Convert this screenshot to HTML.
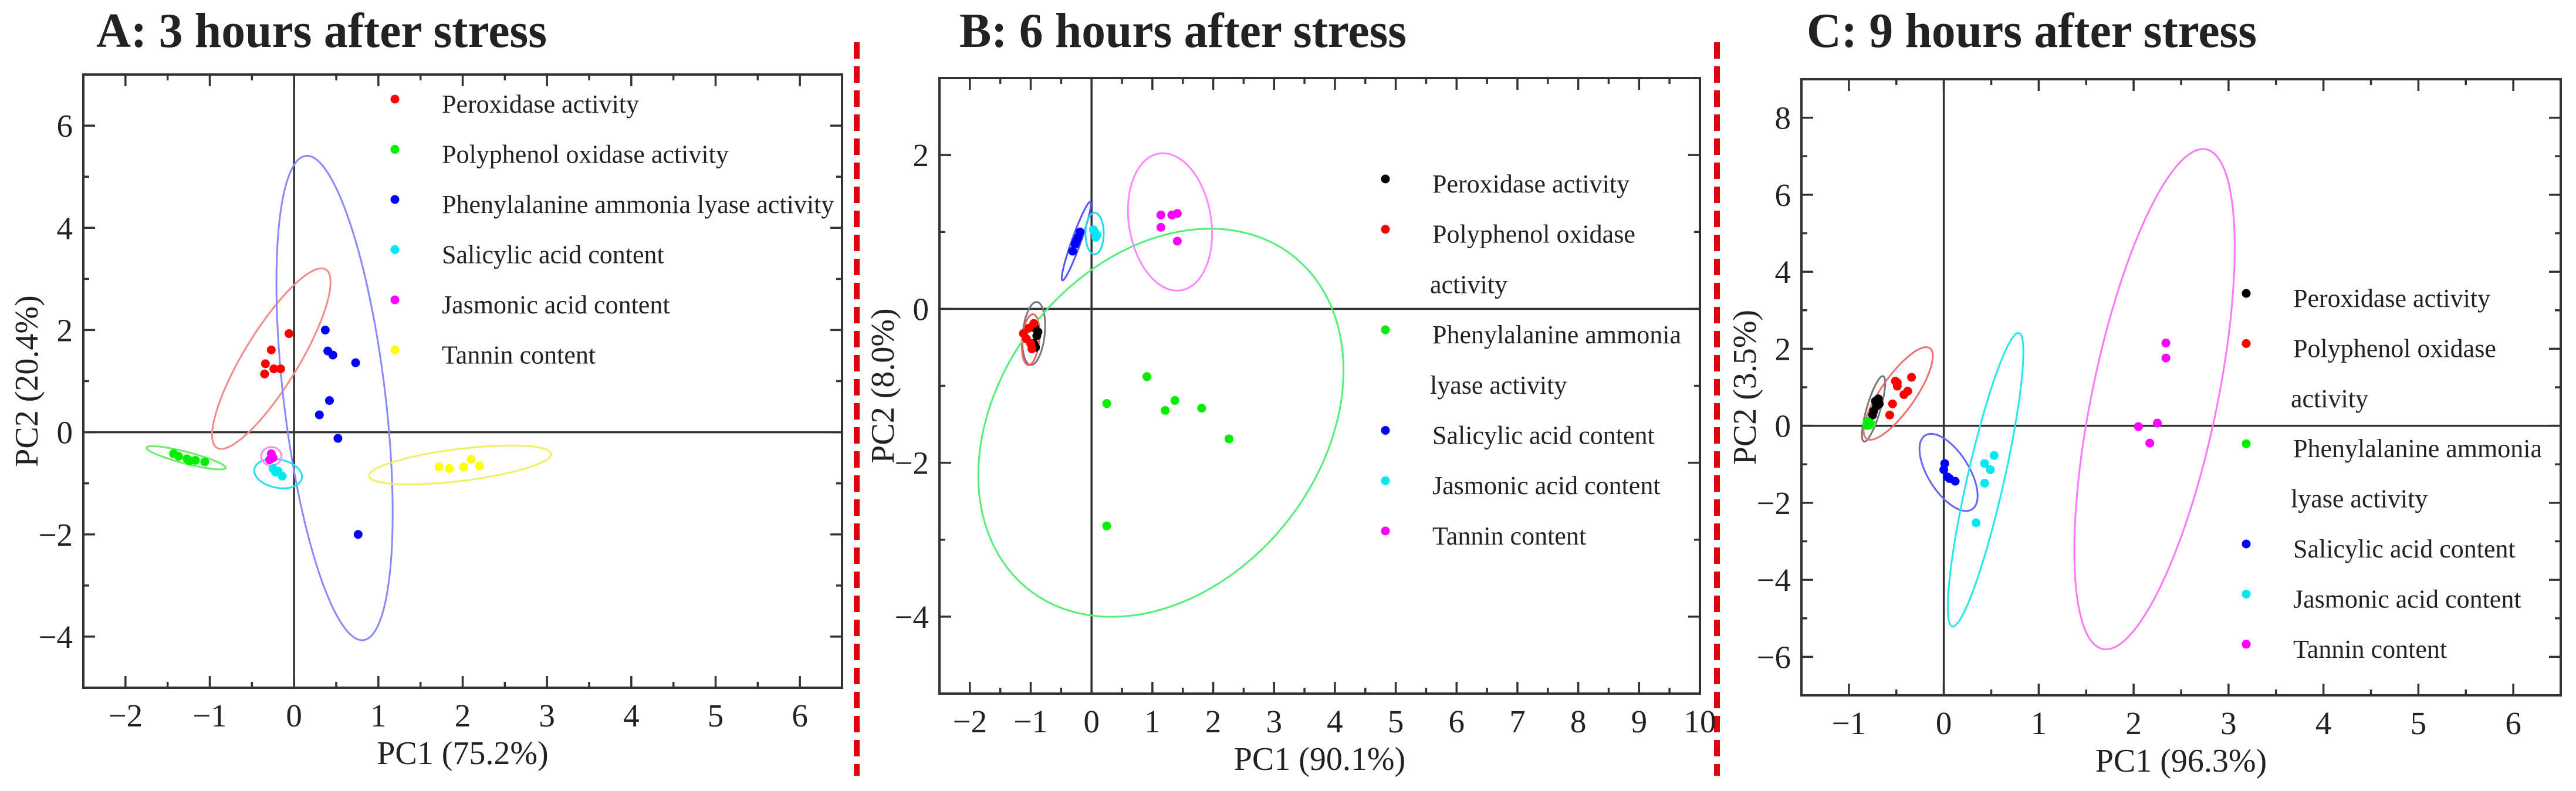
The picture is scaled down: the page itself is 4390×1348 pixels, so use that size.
<!DOCTYPE html>
<html><head><meta charset="utf-8">
<style>
html,body{margin:0;padding:0;background:#fff;}
svg{display:block;}
text{font-family:"Liberation Serif",serif;fill:#222;}
</style></head>
<body>
<svg id="chart" xmlns="http://www.w3.org/2000/svg" width="4390" height="1348" viewBox="0 0 4390 1348">
<rect x="0" y="0" width="4390" height="1348" fill="#fff"/>
<line x1="1460" y1="72" x2="1460" y2="1322" stroke="#e00010" stroke-width="10" stroke-dasharray="28,13"/>
<line x1="2926" y1="72" x2="2926" y2="1322" stroke="#e00010" stroke-width="10" stroke-dasharray="28,13"/>
</svg>
<script>
// ---------- Panel A data ----------
const aLabels = ["Peroxidase activity","Polyphenol oxidase activity","Phenylalanine ammonia lyase activity","Salicylic acid content","Jasmonic acid content","Tannin content"];
const aColors = ["#ff0000","#00ee00","#0000ff","#00e8f0","#ff00ff","#ffff00"];
const aEllColors = ["#f58a8a","#66ee66","#8888ff","#22e0ee","#ff88ff","#f0f060"];
const aRedX = [-0.06,-0.27,-0.34,-0.35,-0.24,-0.16];
const aRedY = [1.93,1.61,1.34,1.14,1.24,1.24];
const aGreenX = [-1.43,-1.37,-1.27,-1.17,-1.06,-1.24];
const aGreenY = [-0.42,-0.47,-0.52,-0.55,-0.58,-0.56];
const aBlueX = [0.37,0.40,0.46,0.73,0.42,0.30,0.52,0.76];
const aBlueY = [2.0,1.59,1.51,1.36,0.62,0.34,-0.12,-2.0];
const aCyanX = [-0.25,-0.19,-0.14,-0.22];
const aCyanY = [-0.71,-0.76,-0.86,-0.78];
const aMagX = [-0.27,-0.25,-0.29];
const aMagY = [-0.42,-0.50,-0.54];
const aYelX = [1.72,1.84,2.01,2.10,2.20];
const aYelY = [-0.68,-0.71,-0.68,-0.53,-0.66];
// ellipses: [cx, cy, majorX, majorY, minorX, minorY]
const aEllipses = [[-0.27,1.44,0.64,1.75,0.29,-0.24],[-1.28,-0.5,0.47,-0.2,-0.02,-0.11],[0.48,0.67,-0.34,4.74,0.60,0.10],[-0.19,-0.81,0.28,-0.1,-0.04,-0.27],[-0.27,-0.47,0.12,0,0,-0.18],[1.97,-0.64,1.08,0.22,0.03,-0.31]];

// ---------- Panel B data ----------
const bLabels = [["Peroxidase activity"],["Polyphenol oxidase","activity"],["Phenylalanine ammonia","lyase activity"],["Salicylic acid content"],["Jasmonic acid content"],["Tannin content"]];
const bColors = ["#000000","#ff0000","#00ee00","#0000ff","#00e8f0","#ff00ff"];
const bEllColors = ["#777777","#f06060","#55ee77","#5555ff","#22d8ee","#ff88ff"];
const bBlackX = [-0.93,-0.90,-0.95,-0.88,-0.92];
const bBlackY = [-0.25,-0.35,-0.45,-0.30,-0.50];
const bRedX = [-1.12,-1.03,-1.0,-0.98,-1.07,-0.95];
const bRedY = [-0.32,-0.25,-0.45,-0.52,-0.39,-0.19];
const bGreenX = [0.91,0.25,1.37,1.21,1.81,2.26,0.25];
const bGreenY = [-0.88,-1.23,-1.19,-1.32,-1.29,-1.69,-2.82];
const bBlueX = [-0.31,-0.27,-0.22,-0.19,-0.25];
const bBlueY = [0.75,0.84,0.93,1.0,0.88];
const bCyanX = [0.05,0.09,0.03,0.07];
const bCyanY = [1.0,0.96,1.03,0.93];
const bMagX = [1.14,1.32,1.41,1.14,1.41];
const bMagY = [1.22,1.22,1.24,1.06,0.88];
const bEllipses = [[-0.95,-0.32,0.05,0.41,0.18,-0.01],[-1.0,-0.4,0.04,0.33,0.14,-0.01],[1.14,-1.48,1.88,2.32,2.34,-0.99],[-0.25,0.88,0.23,0.51,0.07,-0.02],[0.05,0.98,0,0.27,0.15,0],[1.29,1.13,-0.17,0.89,0.67,0.07]];

// ---------- Panel C data ----------
const cLabels = bLabels;
const cColors = bColors;
const cEllColors = ["#777777","#f07070","#55ee55","#6666ee","#22e8ee","#ff77ff"];
const cBlackX = [-0.72,-0.69,-0.68,-0.74,-0.71,-0.75];
const cBlackY = [0.64,0.70,0.57,0.38,0.51,0.28];
const cRedX = [-0.51,-0.49,-0.34,-0.38,-0.42,-0.54,-0.57,-0.49];
const cRedY = [1.16,1.03,1.26,0.90,0.81,0.57,0.28,1.12];
const cGreenX = [-0.80,-0.78,-0.81];
const cGreenY = [0.11,0.05,0.01];
const cBlueX = [0.01,0.0,0.04,0.12,0.06];
const cBlueY = [-0.98,-1.14,-1.33,-1.44,-1.37];
const cCyanX = [0.53,0.43,0.49,0.43,0.34];
const cCyanY = [-0.77,-0.98,-1.14,-1.49,-2.52];
const cMagX = [2.34,2.34,2.05,2.25,2.17];
const cMagY = [2.15,1.76,-0.02,0.07,-0.45];
const cEllipses = [[-0.74,0.44,0.10,0.85,0.07,-0.04],[-0.48,0.84,0.33,1.18,0.155,-0.23],[-0.79,0.06,0.06,0,0,-0.14],[0.05,-1.21,-0.24,0.97,0.19,0.25],[0.44,-1.40,0.35,3.81,0.19,-0.09],[2.22,0.69,0.54,6.49,0.65,-0.28]];

const aXTicks = [-2,-1,0,1,2,3,4,5,6];
const aYTicks = [-4,-2,0,2,4,6];
const bXTicks = [-2,-1,0,1,2,3,4,5,6,7,8,9,10];
const bYTicks = [-4,-2,0,2];
const cXTicks = [-1,0,1,2,3,4,5,6];
const cYTicks = [-6,-4,-2,0,2,4,6,8];

const NS = "http://www.w3.org/2000/svg";
const svg = document.getElementById('chart');
function mk(tag, attrs, parent){const e=document.createElementNS(NS,tag);for(const k in attrs)e.setAttribute(k,attrs[k]);(parent||svg).appendChild(e);return e;}
function fmt(v){return v<0?"\u2212"+Math.abs(v):String(v);}

function panel(p){
  const g = mk('g',{});
  
  
  const sx = v => p.L + (v - p.x0)/(p.x1 - p.x0)*(p.R - p.L);
  const sy = v => p.B - (v - p.y0)/(p.y1 - p.y0)*(p.B - p.T);
  const t = mk('text',{x:p.tx,y:80,'font-size':84,'font-weight':'bold',fill:'#000',textLength:p.tw,lengthAdjust:'spacingAndGlyphs'},g);
  t.textContent = p.title;
  
  
  const zx = mk('line',{x1:sx(0),x2:sx(0),y1:p.T,y2:p.B,stroke:'#333','stroke-width':3.5},g);
  
  
  const zy = mk('line',{x1:p.L,x2:p.R,y1:sy(0),y2:sy(0),stroke:'#333','stroke-width':3.5},g);
  
  
  const tg = mk('g',{stroke:'#333','stroke-width':3.5},g);
  
  
  for(let v=Math.ceil(p.x0*2)/2; v<=p.x1+1e-9; v+=0.5){
    const major = Math.abs(v-Math.round(v))<1e-9; const len = major?20:10; const x=sx(v);
    if(x<=p.L+2||x>=p.R-2) continue;
    mk('line',{x1:x,x2:x,y1:p.B,y2:p.B-len},tg); mk('line',{x1:x,x2:x,y1:p.T,y2:p.T+len},tg);
  }
  for(let v=Math.ceil(p.y0); v<=p.y1; v+=1){
    const major = v%2===0; const len = major?20:10; const y=sy(v);
    if(y<=p.T+2||y>=p.B-2) continue;
    mk('line',{x1:p.L,x2:p.L+len,y1:y,y2:y},tg); mk('line',{x1:p.R,x2:p.R-len,y1:y,y2:y},tg);
  }
  p.xt.forEach(v=>{const e=mk('text',{x:sx(v),y:p.B+66,'font-size':55,'text-anchor':'middle'},g);e.textContent=fmt(v);
    
    });
  p.yt.forEach(v=>{const e=mk('text',{x:p.L-18,y:sy(v)+19,'font-size':55,'text-anchor':'end'},g);e.textContent=fmt(v);
    
    });
  const xt = mk('text',{x:(p.L+p.R)/2,y:p.B+130,'font-size':56,'text-anchor':'middle'},g); xt.textContent=p.xlab;
  
  
  const yc=(p.T+p.B)/2;
  const yt = mk('text',{x:p.L-78,y:yc,'font-size':56,'text-anchor':'middle',transform:`rotate(-90 ${p.L-78} ${yc})`},g); yt.textContent=p.ylab;
  
  
  p.ell.forEach((el,i)=>{
    let d='';
    for(let k=0;k<=120;k++){const a=k/120*2*Math.PI;const vx=el[0]+Math.cos(a)*el[2]+Math.sin(a)*el[4];const vy=el[1]+Math.cos(a)*el[3]+Math.sin(a)*el[5];
      d+=(k?'L':'M')+sx(vx).toFixed(1)+' '+sy(vy).toFixed(1);}
    const e=mk('path',{d:d+'Z',fill:'none',stroke:p.ellColors[i],'stroke-width':3},g);
    
    
  });
  p.series.forEach((s,i)=>{
    s[0].forEach((x,j)=>{const c=mk('circle',{cx:sx(x),cy:sy(s[1][j]),r:7.5,fill:p.colors[i]},g);
      
      });
  });
  const fr = mk('rect',{x:p.L,y:p.T,width:p.R-p.L,height:p.B-p.T,fill:'none',stroke:'#333','stroke-width':4},g);
  
  
  let row=0;
  p.labels.forEach((lab,i)=>{
    const lines = Array.isArray(lab)?lab:[lab];
    const my = p.legY + row*p.legStep;
    const lg = mk('g',{},g);
    
    
    mk('circle',{cx:p.legX,cy:my,r:7.5,fill:p.colors[i]},lg);
    lines.forEach((ln,k)=>{const e=mk('text',{x:p.legX+(k?76:80),y:my+23+k*p.legStep,'font-size':44},lg);e.textContent=ln;});
    row+=lines.length;
  });
}

panel({name:'panel-a-3h',title:'A: 3 hours after stress',tx:164,tw:768,L:142,R:1435,T:127,B:1172,x0:-2.5,x1:6.5,y0:-5,y1:7,
  xt:aXTicks,yt:aYTicks,xlab:'PC1 (75.2%)',ylab:'PC2 (20.4%)',colors:aColors,ellColors:aEllColors,ell:aEllipses,labels:aLabels,
  series:[[aRedX,aRedY],[aGreenX,aGreenY],[aBlueX,aBlueY],[aCyanX,aCyanY],[aMagX,aMagY],[aYelX,aYelY]],legX:673,legY:169,legStep:85.5});
panel({name:'panel-b-6h',title:'B: 6 hours after stress',tx:1635,tw:762,L:1601,R:2897,T:133,B:1182,x0:-2.5,x1:10,y0:-5,y1:3,
  xt:bXTicks,yt:bYTicks,xlab:'PC1 (90.1%)',ylab:'PC2 (8.0%)',colors:bColors,ellColors:bEllColors,ell:bEllipses,labels:bLabels,
  series:[[bBlackX,bBlackY],[bRedX,bRedY],[bGreenX,bGreenY],[bBlueX,bBlueY],[bCyanX,bCyanY],[bMagX,bMagY]],legX:2361,legY:305,legStep:85.7});
panel({name:'panel-c-9h',title:'C: 9 hours after stress',tx:3079,tw:767,L:3070,R:4364,T:135,B:1185,x0:-1.5,x1:6.5,y0:-7,y1:9,
  xt:cXTicks,yt:cYTicks,xlab:'PC1 (96.3%)',ylab:'PC2 (3.5%)',colors:cColors,ellColors:cEllColors,ell:cEllipses,labels:cLabels,
  series:[[cBlackX,cBlackY],[cRedX,cRedY],[cGreenX,cGreenY],[cBlueX,cBlueY],[cCyanX,cCyanY],[cMagX,cMagY]],legX:3828,legY:500,legStep:85.4});
</script>
</body></html>
